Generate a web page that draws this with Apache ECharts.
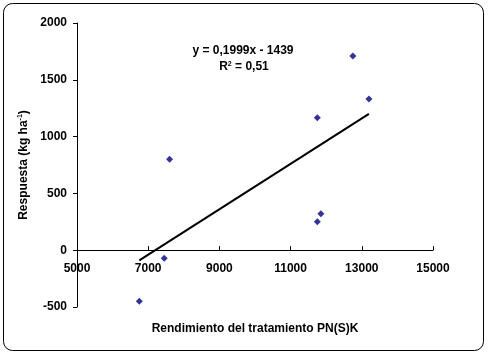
<!DOCTYPE html>
<html>
<head>
<meta charset="utf-8">
<script src="https://cdn.jsdelivr.net/npm/echarts@6/dist/echarts.min.js"></script>
<style>
  html, body { margin: 0; padding: 0; background: #fff; }
  #chart { width: 488px; height: 354px; }
</style>
</head>
<body>
<div id="chart"></div>
<script>
// datos
var rendimiento = [6750, 7450, 7600, 11750, 11750, 11850, 12750, 13200];
var respuesta   = [-450, -70, 800, 1165, 250, 320, 1710, 1330];
// recta de tendencia y = 0,1999x - 1439
var pendiente = 0.1999;
var intercepto = -1439;
var xTicks = [5000, 7000, 9000, 11000, 13000, 15000];
var yTicks = [-500, 0, 500, 1000, 1500, 2000];

var puntos = rendimiento.map(function (x, i) { return [x, respuesta[i]]; });
var xMin = Math.min.apply(null, rendimiento);
var xMax = Math.max.apply(null, rendimiento);
var tendencia = [
  [xMin, pendiente * xMin + intercepto],
  [xMax, pendiente * xMax + intercepto]
];

var gridTop = 23, gridBottom = 47, alto = 354;
var yMin = yTicks[0], yMax = yTicks[yTicks.length - 1];
// el eje X cruza en y = 0: desplazar el eje hacia arriba
var altoGrid = alto - gridTop - gridBottom;
var offsetCero = -altoGrid * (0 - yMin) / (yMax - yMin);

var fuente = 'Liberation Sans, Arial, sans-serif';
var myChart = echarts.init(document.getElementById('chart'));
myChart.setOption({
  animation: false,
  grid: { left: 77, right: 55, top: gridTop, bottom: gridBottom, containLabel: false, outerBoundsMode: 'none' },
  graphic: [
    {
      type: 'rect',
      shape: { x: 3.5, y: 3.5, width: 480, height: 347, r: 9 },
      style: { fill: 'none', stroke: '#000', lineWidth: 1 },
      silent: true
    },
    {
      type: 'text',
      x: 243, y: 45,
      style: {
        text: 'y = 0,1999x - 1439',
        font: 'bold 12px ' + fuente,
        fill: '#000',
        align: 'center',
        verticalAlign: 'top'
      }
    },
    {
      type: 'text',
      x: 244, y: 61,
      style: {
        text: 'R{s|2} = 0,51',
        font: 'bold 12px ' + fuente,
        fill: '#000',
        align: 'center',
        verticalAlign: 'top',
        rich: {
          s: { fontSize: 7, fontWeight: 'bold', fontFamily: fuente, verticalAlign: 'top', padding: [0, 0, 5, 0] }
        }
      }
    }
  ],
  xAxis: {
    type: 'value',
    min: xTicks[0],
    max: xTicks[xTicks.length - 1],
    interval: 2000,
    offset: offsetCero,
    name: 'Rendimiento del tratamiento PN(S)K',
    nameLocation: 'middle',
    nameGap: 72,
    nameTextStyle: { color: '#000', fontWeight: 'bold', fontSize: 12, fontFamily: fuente },
    axisLine: { onZero: false, lineStyle: { color: '#000', width: 1 } },
    axisTick: { show: true, inside: true, length: 4, lineStyle: { color: '#000' } },
    axisLabel: {
      color: '#000', fontWeight: 'bold', fontSize: 12, fontFamily: fuente, margin: 12,
      formatter: function (v) { return String(v); }
    },
    splitLine: { show: false }
  },
  yAxis: {
    type: 'value',
    min: yMin,
    max: yMax,
    interval: 500,
    name: '{a|Respuesta (kg ha}{s|-1}{a|)}',
    nameLocation: 'middle',
    nameGap: 45,
    nameTextStyle: {
      rich: {
        a: { color: '#000', fontWeight: 'bold', fontSize: 12, fontFamily: fuente },
        s: { color: '#000', fontWeight: 'bold', fontSize: 7, fontFamily: fuente, verticalAlign: 'top', padding: [0, 0, 6, 0] }
      }
    },
    axisLine: { show: true, onZero: false, lineStyle: { color: '#000', width: 1 } },
    axisTick: { show: true, length: 4, lineStyle: { color: '#000' } },
    axisLabel: {
      color: '#000', fontWeight: 'bold', fontSize: 12, fontFamily: fuente, margin: 10,
      formatter: function (v) { return String(v); }
    },
    splitLine: { show: false }
  },
  series: [
    {
      type: 'line',
      data: tendencia,
      symbol: 'none',
      lineStyle: { color: '#000', width: 2 },
      z: 1
    },
    {
      type: 'scatter',
      data: puntos,
      symbol: 'diamond',
      symbolSize: 7,
      itemStyle: { color: '#000080' },
      z: 3
    }
  ]
});
</script>
</body>
</html>
